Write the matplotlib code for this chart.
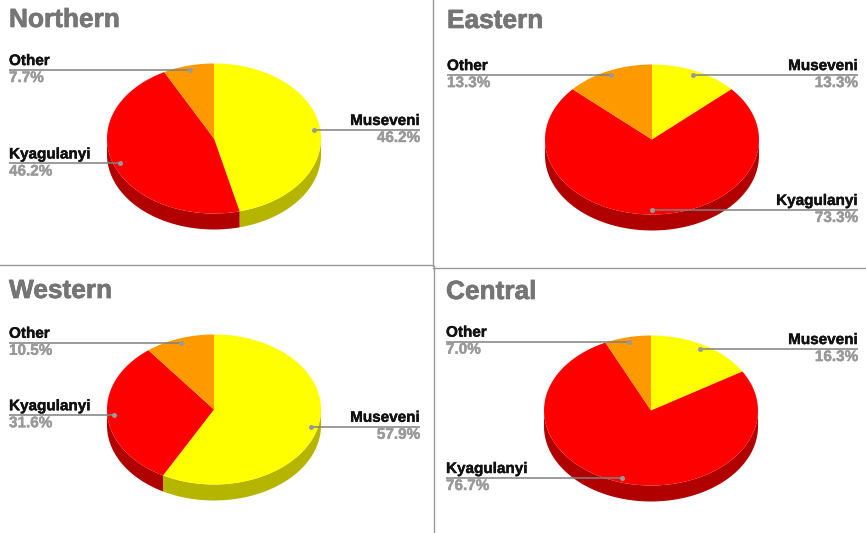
"""Four 3D-looking pie panels of vote share by region."""
import matplotlib
matplotlib.use("Agg")
import matplotlib.patheffects as pe
import matplotlib.pyplot as plt
import numpy as np
from matplotlib.patches import Polygon

# ---------------------------------------------------------------------------
# Data
# ---------------------------------------------------------------------------
CANDIDATES = ["Museveni", "Kyagulanyi", "Other"]
REGIONS = ["Northern", "Eastern", "Western", "Central"]
NORTHERN = [46.2, 46.2, 7.7]
EASTERN = [13.3, 73.3, 13.3]
WESTERN = [57.9, 31.6, 10.5]
CENTRAL = [16.3, 76.7, 7.0]

# ---------------------------------------------------------------------------
# Style / layout (pixels)
# ---------------------------------------------------------------------------
TOP_COLORS = ["#ffff00", "#ff0000", "#ff9900"]
WALL_COLORS = ["#b5b500", "#b00000", "#b36b00"]
W, H = 866, 533
RX, RY, DEPTH = 107, 75, 16
FONT = "Liberation Sans"

# center x, center y, label left, label right, title y
PANELS = [
    (214, 138.5, 9, 420, 20),
    (652, 139.5, 447, 858, 21),
    (214, 409.5, 9, 420, 291),
    (651, 410.5, 446, 858, 292),
]


def arc(cx, cy, start, end, n=120):
    """Points on the ellipse; angles are fractions clockwise from the top."""
    t = np.linspace(start, end, n) * 2 * np.pi
    return np.column_stack([cx + RX * np.sin(t), cy - RY * np.cos(t)])


def heavy(color, width):
    return [pe.withStroke(linewidth=width, foreground=color)]


def draw_pie(ax, values, panel, title):
    cx, cy, left, right, title_y = panel
    total = sum(values)
    fracs = np.cumsum([0] + values) / total

    # side wall, only the front half shows
    for i in range(len(values)):
        start = max(fracs[i], 0.25)
        end = min(fracs[i + 1], 0.75)
        if end <= start:
            continue
        upper = arc(cx, cy, start, end)
        lower = upper[::-1] + [0, DEPTH]
        ax.add_patch(Polygon(np.vstack([upper, lower]), fc=WALL_COLORS[i], ec="none", zorder=2))

    # top face
    for i in range(len(values)):
        pts = np.vstack([[cx, cy], arc(cx, cy, fracs[i], fracs[i + 1])])
        ax.add_patch(Polygon(pts, fc=TOP_COLORS[i], ec="none", zorder=3))

    # leader lines and labels
    for i, name in enumerate(CANDIDATES):
        mid = (fracs[i] + fracs[i + 1]) / 2
        dot_x = cx + 0.94 * RX * np.sin(mid * 2 * np.pi)
        dot_y = cy - 0.94 * RY * np.cos(mid * 2 * np.pi)
        on_right = mid <= 0.5 + 1e-9
        x_end = right if on_right else left
        ha = "right" if on_right else "left"
        ax.plot([dot_x, x_end], [dot_y, dot_y], color="#808080", lw=1.1, zorder=4,
                solid_capstyle="butt")
        ax.plot(dot_x, dot_y, "o", ms=3.6, mfc="#999999", mec="none", zorder=5)
        ax.text(x_end, dot_y - 9, name, ha=ha, va="center", fontsize=11,
                fontweight="bold", color="#111111", family=FONT, zorder=6,
                path_effects=heavy("#111111", 0.3))
        ax.text(x_end, dot_y + 8, f"{values[i]:.1f}%", ha=ha, va="center", fontsize=11,
                fontweight="bold", color="#999999", family=FONT, zorder=6,
                path_effects=heavy("#999999", 0.3))

    ax.text(left, title_y, title, ha="left", va="center", fontsize=18.9,
            fontweight="bold", color="#757575", family=FONT,
            path_effects=heavy("#757575", 0.5))


def main() -> None:
    fig = plt.figure(figsize=(W / 100, H / 100), dpi=100)
    ax = fig.add_axes([0, 0, 1, 1])
    ax.set_xlim(0, W)
    ax.set_ylim(H, 0)
    ax.axis("off")

    all_values = [NORTHERN, EASTERN, WESTERN, CENTRAL]
    for values, panel, title in zip(all_values, PANELS, REGIONS):
        draw_pie(ax, values, panel, title)

    # panel borders
    border = dict(color="#999999", lw=1, zorder=1)
    ax.plot([0, 432], [264.5, 264.5], **border)
    ax.plot([433, W], [267.5, 267.5], **border)
    ax.plot([432.5, 432.5], [0, 266], **border)
    ax.plot([433.5, 433.5], [266, H], **border)

    fig.savefig("out.png", dpi=100)
    plt.close(fig)


if __name__ == "__main__":
    main()
